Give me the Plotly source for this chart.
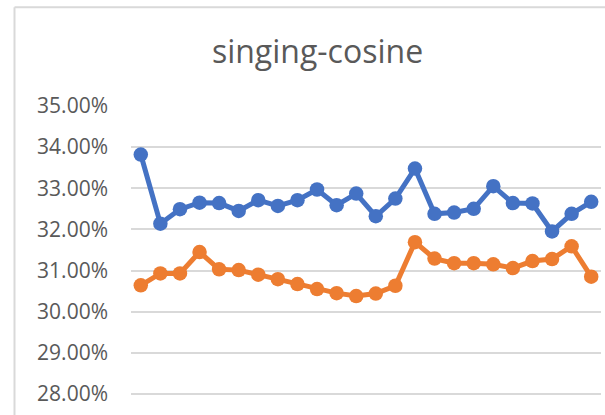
import plotly.graph_objects as go

# Data (values in percent)
categories = list(range(1, 25))
series_blue = [33.82, 32.14, 32.49, 32.65, 32.64, 32.45, 32.71, 32.57, 32.71, 32.97,
               32.59, 32.87, 32.32, 32.75, 33.48, 32.38, 32.41, 32.50, 33.05, 32.64,
               32.63, 31.95, 32.38, 32.67]
series_orange = [30.64, 30.93, 30.93, 31.45, 31.03, 31.01, 30.90, 30.79, 30.67, 30.55,
                 30.45, 30.38, 30.44, 30.63, 31.69, 31.29, 31.18, 31.18, 31.15, 31.06,
                 31.23, 31.28, 31.59, 30.85]
y_ticks = [28, 29, 30, 31, 32, 33, 34, 35]
title_text = "singing-cosine"

W, H = 605, 415
plot_left, plot_right, plot_top, plot_bottom = 131, 601, 105.5, 415
px_per_pct = 41.2
y_min = 35 - (plot_bottom - plot_top) / px_per_pct

fig = go.Figure()
for vals, color in [(series_blue, "#4472C4"), (series_orange, "#ED7D31")]:
    fig.add_trace(go.Scatter(
        x=categories, y=vals, mode="lines+markers",
        line=dict(color=color, width=5),
        marker=dict(color=color, size=14.5),
        showlegend=False, hoverinfo="skip",
    ))

pw = plot_right - plot_left
ph = plot_bottom - plot_top
def xp(px):
    return (px - plot_left) / pw
def yp(py):
    return (plot_bottom - py) / ph

border = "#D9D9D9"
shapes = [
    dict(type="line", xref="paper", yref="paper", x0=xp(14.5), x1=xp(W + 20), y0=yp(6.5), y1=yp(6.5),
         line=dict(color=border, width=2)),
    dict(type="line", xref="paper", yref="paper", x0=xp(14.5), x1=xp(14.5), y0=yp(6.5), y1=yp(H + 20),
         line=dict(color=border, width=2)),
]

fig.update_layout(
    width=W, height=H,
    margin=dict(l=plot_left, r=W - plot_right, t=plot_top, b=0, autoexpand=False),
    paper_bgcolor="white", plot_bgcolor="white",
    font=dict(family="Open Sans", color="#595959"),
    title=dict(text=title_text, x=317.5 / W, xref="container", xanchor="center",
               y=1 - 52 / H, yref="container", yanchor="middle",
               font=dict(size=32, color="#595959", family="Open Sans")),
    xaxis=dict(range=[0.5, 24.5], showticklabels=False, showgrid=False, zeroline=False,
               showline=False, fixedrange=True),
    yaxis=dict(range=[y_min, 35], tickvals=y_ticks,
               ticktext=[f"{v:.2f}%" for v in y_ticks],
               showgrid=True, gridcolor=border, gridwidth=2, zeroline=False,
               showline=False, ticks="", ticklabelstandoff=22,
               tickfont=dict(size=21, color="#595959", family="Open Sans")),
    shapes=shapes,
)

fig.write_html("out.html")
